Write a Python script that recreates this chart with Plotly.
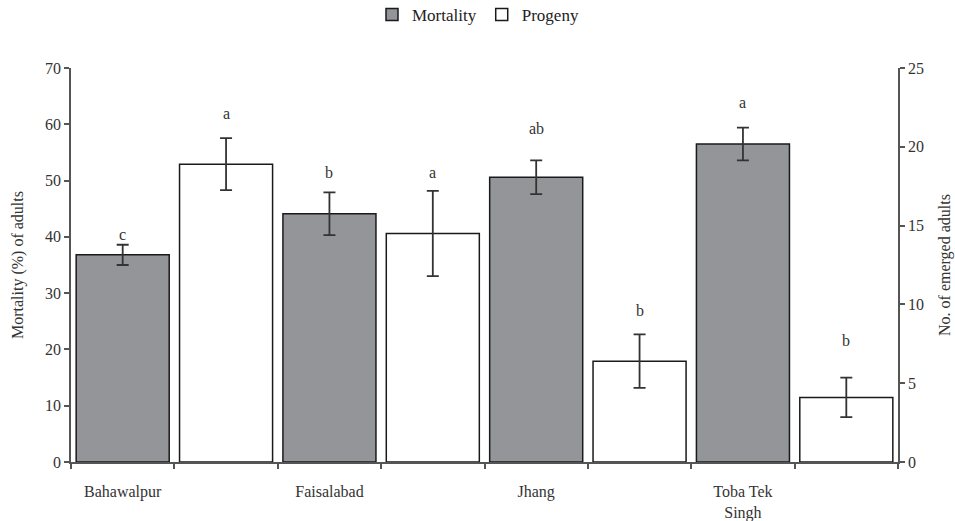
import plotly.graph_objects as go

districts = ["Bahawalpur", "Faisalabad", "Jhang", "Toba Tek<br>Singh"]
mortality = [36.8, 44.1, 50.6, 56.5]
mortality_err = [1.8, 3.8, 3.0, 2.9]
mortality_letters = ["c", "b", "ab", "a"]
mortality_letter_y = [40.5, 51.5, 59.3, 63.9]
progeny = [18.9, 14.5, 6.4, 4.1]
progeny_err = [1.65, 2.7, 1.7, 1.25]
progeny_letters = ["a", "a", "b", "b"]
progeny_letter_y = [22.1, 18.4, 9.6, 7.7]

n = len(districts)
x_mort = [2 * i + 0.5 for i in range(n)]
x_prog = [2 * i + 1.5 for i in range(n)]

FONT = "Liberation Serif"
GREY = "#939598"
ERRC = "#333333"
L, R = 71, 898

fig = go.Figure()
fig.add_trace(go.Bar(
    x=x_mort, y=mortality, name="Mortality", width=0.9,
    marker=dict(color=GREY, line=dict(color="#1a1a1a", width=1.5)),
    error_y=dict(type="data", array=mortality_err, color=ERRC, thickness=1.8, width=6),
    yaxis="y",
))
fig.add_trace(go.Bar(
    x=x_prog, y=progeny, name="Progeny", width=0.9,
    marker=dict(color="white", line=dict(color="#1a1a1a", width=1.5)),
    error_y=dict(type="data", array=progeny_err, color=ERRC, thickness=1.8, width=6),
    yaxis="y2",
))

ann = []
for xi, yi, t in zip(x_mort, mortality_letter_y, mortality_letters):
    ann.append(dict(x=xi, y=yi, xref="x", yref="y", text=t, showarrow=False,
                    font=dict(family=FONT, size=16, color="#333")))
for xi, yi, t in zip(x_prog, progeny_letter_y, progeny_letters):
    ann.append(dict(x=xi, y=yi, xref="x", yref="y2", text=t, showarrow=False,
                    font=dict(family=FONT, size=16, color="#333")))

# axis titles
ann.append(dict(x=(18 - L) / (R - L), y=0.5, xref="paper", yref="paper",
                text="Mortality (%) of adults", showarrow=False, textangle=-90,
                xanchor="center", yanchor="middle",
                font=dict(family=FONT, size=16, color="#333")))
ann.append(dict(x=(945 - L) / (R - L), y=0.5, xref="paper", yref="paper",
                text="No. of emerged adults", showarrow=False, textangle=-90,
                xanchor="center", yanchor="middle",
                font=dict(family=FONT, size=16, color="#333")))

fig.update_layout(
    width=955, height=521,
    margin=dict(l=L, r=955 - R, t=68, b=59, autoexpand=False),
    paper_bgcolor="white", plot_bgcolor="white",
    font=dict(family=FONT, size=16, color="#333"),
    barmode="overlay",
    showlegend=True,
    legend=dict(orientation="h", xref="container", yref="container",
                x=478 / 955, xanchor="center", y=1 - 15 / 521, yanchor="middle",
                font=dict(family=FONT, size=17, color="#222"), itemwidth=30,
                tracegroupgap=0),
    xaxis=dict(
        range=[0, 2 * n], tickmode="array", tickvals=x_mort, ticktext=districts,
        ticks="", showline=True, linecolor="#555", linewidth=1.5, automargin=False,
        showgrid=False, zeroline=False, ticklabelstandoff=14,
        minor=dict(tickmode="array", tickvals=list(range(2 * n + 1)), ticks="outside",
                   ticklen=5, tickcolor="#555", tickwidth=1.5, showgrid=False),
        tickfont=dict(family=FONT, size=16, color="#333"),
    ),
    yaxis=dict(
        range=[0, 70], dtick=10, ticks="outside", ticklen=5, tickcolor="#555", tickwidth=1.5,
        showline=True, linecolor="#555", linewidth=1.5, showgrid=False, zeroline=False,
        automargin=False,
        tickfont=dict(family=FONT, size=16, color="#333"),
    ),
    yaxis2=dict(
        range=[0, 25], dtick=5, overlaying="y", side="right", ticks="outside", ticklen=5,
        tickcolor="#555", tickwidth=1.5, showline=True, linecolor="#555", linewidth=1.5,
        showgrid=False, zeroline=False, automargin=False,
        tickfont=dict(family=FONT, size=16, color="#333"),
    ),
    annotations=ann,
)

fig.write_html("out.html", config={"displayModeBar": False},
               post_script="document.body.style.margin='0';")
